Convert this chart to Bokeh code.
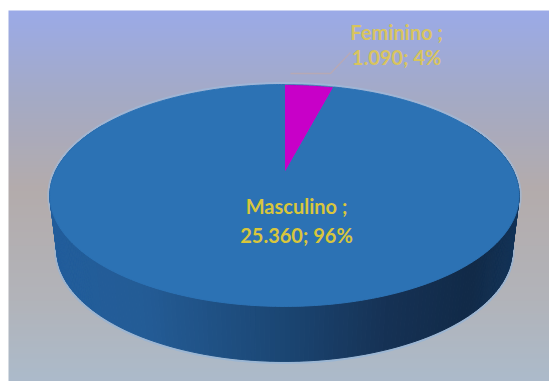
import numpy as np
from bokeh.core.properties import value
from bokeh.embed import file_html
from bokeh.models import Range1d
from bokeh.plotting import figure
from bokeh.resources import INLINE

categories = ["Masculino", "Feminino"]
counts = [25360, 1090]
slice_colors = {"Masculino": "#2C72B4", "Feminino": "#C800C8"}

W, H = 549, 381
PANEL_LEFT, PANEL_TOP = 8, 10

# Tilted-disc projection, expressed in page pixels
CX, APEX_Y = 284, 173
BX, AY, PERSP = 230, 106.6, 0.198
DEPTH = 55
BASE_SCALE = 0.97


def Y(y):
    return H - np.asarray(y, dtype=float)


def project(theta):
    u, v = np.sin(theta), np.cos(theta)
    w = 1 + PERSP * v
    return CX + BX * u / w, Y(APEX_Y - AY * v / w)


def project_base(theta):
    x, y = project(theta)
    return CX + BASE_SCALE * (x - CX), y - DEPTH


p = figure(width=W, height=H, output_backend="svg", toolbar_location=None,
           x_range=Range1d(0, W), y_range=Range1d(0, H), min_border=0,
           outline_line_color=None, background_fill_color="white",
           border_fill_color="white")
p.axis.visible = False
p.grid.visible = False

# Backdrop: vertical gradient from periwinkle through warm grey to blue-grey
stops_y = [10, 100, 190, 300, 381]
stops_rgb = [(155, 170, 232), (165, 170, 197), (180, 172, 172), (178, 180, 186), (172, 187, 203)]
rows = np.arange(H - 1, PANEL_TOP - 1, -1) + 0.5
img = np.zeros((len(rows), 1), dtype=np.uint32)
view = img.view(np.uint8).reshape((len(rows), 1, 4))
for c in range(3):
    view[:, 0, c] = np.interp(rows, stops_y, [s[c] for s in stops_rgb]).astype(np.uint8)
view[:, 0, 3] = 255
p.image_rgba(image=[img], x=PANEL_LEFT, y=0, dw=W - PANEL_LEFT, dh=H - PANEL_TOP)

# Pale glow hugging the disc and the wall's lower edge
theta = np.linspace(0, 2 * np.pi, 721)
rim_x, rim_y = project(theta)
base_x, base_y = project_base(theta)
p.line(rim_x, rim_y, line_color="#9DBCE0", line_alpha=0.6, line_width=5)
p.line(base_x, base_y, line_color="#8FB4DC", line_alpha=0.6, line_width=5)

# Cylinder wall: strips between the top rim and the base, shaded from left to right
shade_pos = [0.0, 0.2, 0.5, 0.72, 0.9, 1.0]
shade_rgb = [(34, 94, 156), (36, 92, 150), (27, 70, 115), (22, 50, 85), (17, 42, 72), (20, 52, 88)]
wall_theta = np.linspace(np.radians(60), np.radians(300), 241)
wx, wy = project(wall_theta)
bx, by = project_base(wall_theta)
left, right = wx.min(), wx.max()
xs, ys, fills = [], [], []
for i in range(len(wall_theta) - 1):
    t = ((wx[i] + wx[i + 1]) / 2 - left) / (right - left)
    col = tuple(int(np.interp(t, shade_pos, [s[c] for s in shade_rgb])) for c in range(3))
    xs.append([wx[i], wx[i + 1], bx[i + 1], bx[i]])
    ys.append([wy[i], wy[i + 1], by[i + 1], by[i]])
    fills.append("#%02x%02x%02x" % col)
p.patches(xs, ys, fill_color=fills, line_color=fills, line_width=1)

# Pie slices on the top face, clockwise from twelve o'clock starting with the smaller share
total = sum(counts)
start = 0.0
apex_x, apex_y = CX, float(Y(APEX_Y))
for name in ["Feminino", "Masculino"]:
    share = counts[categories.index(name)] / total
    ang = np.linspace(start, start + share * 2 * np.pi, 400)
    x, y = project(ang)
    is_small = name == "Feminino"
    p.patch(np.r_[apex_x, x], np.r_[apex_y, y], fill_color=slice_colors[name],
            line_color="#2C8CB4" if is_small else slice_colors[name],
            line_width=1)
    start += share * 2 * np.pi

# Leader line for the small slice
p.line([290, 330, 350], Y([73, 73, 52]), line_color="#C8A8A0", line_alpha=0.55, line_width=1.5)


def thousands(n):
    return f"{n:,}".replace(",", ".")


def label(name, cx, y1, y2, color):
    n = counts[categories.index(name)]
    lines = [f"{name} ;", f"{thousands(n)}; {round(100 * n / total)}%"]
    p.text([cx, cx], Y([y1, y2]), text=lines, text_font=value("Lato"),
           text_font_size="20px", text_font_style="bold", text_color=color,
           text_align="center", text_baseline="middle")


label("Masculino", 296, 205, 234, "#D9C63C")
label("Feminino", 396, 31, 56, "#D8C45E")

open("out.html", "w").write(file_html(p, INLINE))
